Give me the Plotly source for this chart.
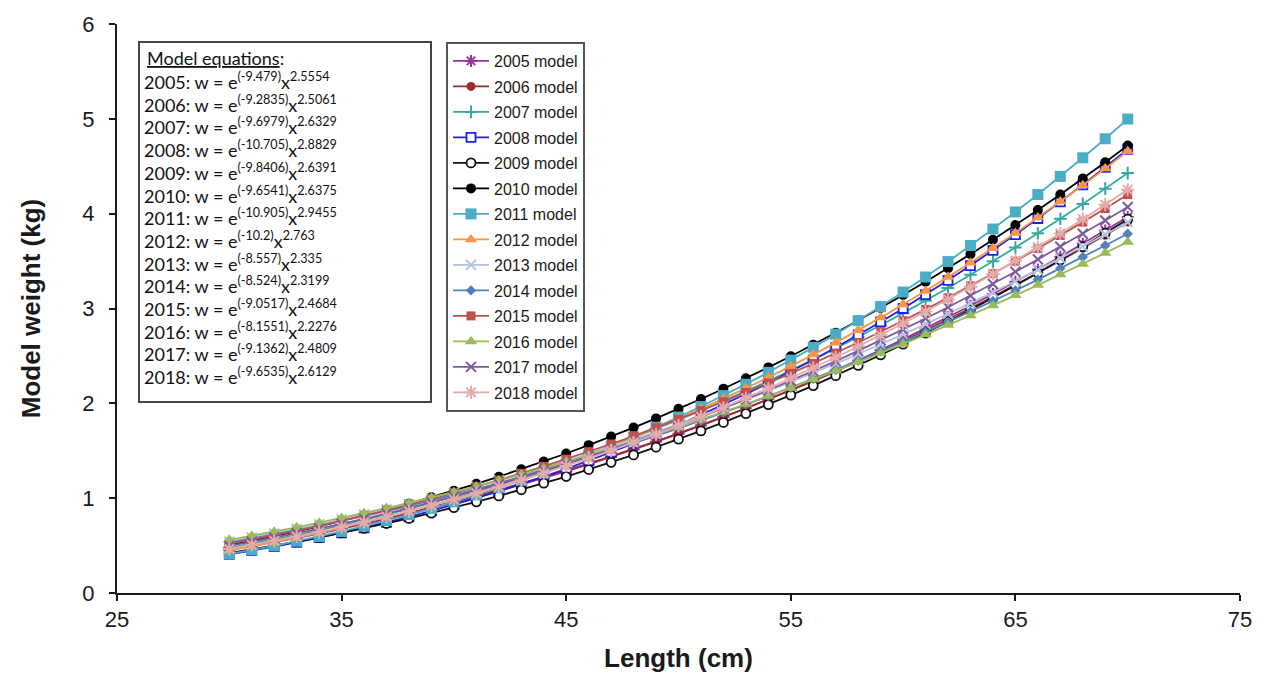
import plotly.graph_objects as go

# ---------------- data ----------------
length_cm = [30, 31, 32, 33, 34, 35, 36, 37, 38, 39, 40, 41, 42, 43, 44, 45, 46, 47, 48, 49, 50,
             51, 52, 53, 54, 55, 56, 57, 58, 59, 60, 61, 62, 63, 64, 65, 66, 67, 68, 69, 70]

w2005 = [0.455, 0.495, 0.537, 0.580, 0.626, 0.675, 0.725, 0.778, 0.832, 0.889, 0.949, 1.011, 1.075, 1.142,
         1.211, 1.282, 1.356, 1.433, 1.512, 1.594, 1.678, 1.765, 1.855, 1.948, 2.043, 2.141, 2.242, 2.346,
         2.452, 2.562, 2.674, 2.790, 2.908, 3.029, 3.154, 3.281, 3.412, 3.545, 3.682, 3.822, 3.965]
w2006 = [0.468, 0.508, 0.550, 0.594, 0.640, 0.688, 0.739, 0.791, 0.846, 0.903, 0.962, 1.023, 1.087, 1.153,
         1.221, 1.292, 1.365, 1.441, 1.519, 1.600, 1.683, 1.768, 1.857, 1.947, 2.041, 2.137, 2.235, 2.337,
         2.441, 2.548, 2.657, 2.770, 2.885, 3.003, 3.124, 3.248, 3.374, 3.504, 3.637, 3.772, 3.911]
w2007 = [0.476, 0.519, 0.564, 0.611, 0.661, 0.714, 0.769, 0.826, 0.886, 0.949, 1.015, 1.083, 1.154, 1.227,
         1.304, 1.384, 1.466, 1.551, 1.640, 1.731, 1.826, 1.924, 2.024, 2.129, 2.236, 2.347, 2.461, 2.578,
         2.699, 2.823, 2.951, 3.082, 3.217, 3.355, 3.497, 3.643, 3.793, 3.946, 4.103, 4.264, 4.428]
w2008 = [0.407, 0.447, 0.490, 0.535, 0.583, 0.634, 0.688, 0.744, 0.804, 0.866, 0.932, 1.001, 1.073, 1.148,
         1.227, 1.309, 1.395, 1.484, 1.577, 1.673, 1.774, 1.878, 1.986, 2.098, 2.214, 2.334, 2.459, 2.588,
         2.721, 2.858, 3.000, 3.146, 3.297, 3.453, 3.613, 3.779, 3.949, 4.124, 4.304, 4.489, 4.679]
w2009 = [0.421, 0.459, 0.500, 0.542, 0.586, 0.633, 0.682, 0.733, 0.786, 0.842, 0.900, 0.961, 1.024, 1.089,
         1.158, 1.228, 1.302, 1.378, 1.456, 1.538, 1.622, 1.709, 1.799, 1.892, 1.987, 2.086, 2.187, 2.292,
         2.400, 2.510, 2.624, 2.741, 2.861, 2.985, 3.111, 3.242, 3.375, 3.511, 3.651, 3.795, 3.942]
w2010 = [0.505, 0.551, 0.599, 0.649, 0.702, 0.758, 0.817, 0.878, 0.942, 1.009, 1.078, 1.151, 1.226, 1.305,
         1.386, 1.471, 1.559, 1.650, 1.744, 1.841, 1.942, 2.046, 2.154, 2.265, 2.379, 2.497, 2.619, 2.744,
         2.873, 3.005, 3.142, 3.282, 3.425, 3.573, 3.725, 3.880, 4.039, 4.203, 4.370, 4.542, 4.718]
w2011 = [0.412, 0.454, 0.498, 0.546, 0.596, 0.649, 0.705, 0.764, 0.827, 0.892, 0.961, 1.034, 1.110, 1.190,
         1.273, 1.360, 1.451, 1.546, 1.645, 1.748, 1.855, 1.966, 2.082, 2.202, 2.327, 2.456, 2.590, 2.729,
         2.872, 3.020, 3.174, 3.332, 3.495, 3.664, 3.838, 4.018, 4.202, 4.393, 4.589, 4.790, 4.998]
w2012 = [0.448, 0.491, 0.536, 0.583, 0.633, 0.686, 0.742, 0.800, 0.861, 0.925, 0.992, 1.062, 1.136, 1.212,
         1.291, 1.374, 1.460, 1.550, 1.642, 1.739, 1.838, 1.942, 2.049, 2.160, 2.274, 2.392, 2.514, 2.640,
         2.770, 2.904, 3.042, 3.185, 3.331, 3.482, 3.636, 3.796, 3.959, 4.127, 4.300, 4.477, 4.658]
w2013 = [0.541, 0.584, 0.628, 0.675, 0.724, 0.775, 0.827, 0.882, 0.939, 0.997, 1.058, 1.121, 1.186, 1.253,
         1.322, 1.393, 1.466, 1.542, 1.620, 1.700, 1.782, 1.866, 1.953, 2.041, 2.132, 2.226, 2.321, 2.419,
         2.520, 2.622, 2.727, 2.835, 2.944, 3.056, 3.171, 3.288, 3.407, 3.529, 3.653, 3.780, 3.909]
w2014 = [0.531, 0.573, 0.616, 0.662, 0.709, 0.759, 0.810, 0.863, 0.918, 0.975, 1.034, 1.095, 1.158, 1.223,
         1.290, 1.359, 1.431, 1.504, 1.579, 1.656, 1.736, 1.817, 1.901, 1.987, 2.075, 2.165, 2.258, 2.352,
         2.449, 2.548, 2.650, 2.753, 2.859, 2.967, 3.078, 3.190, 3.305, 3.423, 3.543, 3.665, 3.789]
w2015 = [0.519, 0.563, 0.608, 0.656, 0.707, 0.759, 0.814, 0.871, 0.930, 0.991, 1.055, 1.122, 1.190, 1.262,
         1.335, 1.411, 1.490, 1.571, 1.655, 1.742, 1.831, 1.923, 2.017, 2.114, 2.214, 2.316, 2.422, 2.530,
         2.641, 2.755, 2.871, 2.991, 3.113, 3.239, 3.367, 3.499, 3.633, 3.770, 3.911, 4.054, 4.201]
w2016 = [0.561, 0.603, 0.647, 0.693, 0.741, 0.790, 0.842, 0.895, 0.949, 1.006, 1.064, 1.124, 1.186, 1.250,
         1.316, 1.383, 1.453, 1.524, 1.597, 1.672, 1.749, 1.828, 1.909, 1.992, 2.077, 2.163, 2.252, 2.342,
         2.435, 2.530, 2.626, 2.725, 2.825, 2.927, 3.032, 3.139, 3.247, 3.358, 3.470, 3.585, 3.702]
w2017 = [0.497, 0.540, 0.584, 0.630, 0.679, 0.729, 0.782, 0.837, 0.894, 0.954, 1.016, 1.080, 1.146, 1.215,
         1.287, 1.360, 1.437, 1.515, 1.597, 1.680, 1.767, 1.856, 1.947, 2.042, 2.138, 2.238, 2.340, 2.445,
         2.553, 2.664, 2.777, 2.894, 3.013, 3.135, 3.259, 3.387, 3.518, 3.652, 3.789, 3.928, 4.071]
w2018 = [0.465, 0.506, 0.550, 0.596, 0.644, 0.695, 0.748, 0.804, 0.862, 0.922, 0.985, 1.051, 1.119, 1.190,
         1.264, 1.340, 1.420, 1.502, 1.587, 1.674, 1.765, 1.859, 1.956, 2.055, 2.158, 2.264, 2.373, 2.486,
         2.601, 2.720, 2.842, 2.968, 3.097, 3.229, 3.364, 3.504, 3.646, 3.792, 3.942, 4.095, 4.252]

years = ["2005", "2006", "2007", "2008", "2009", "2010", "2011",
         "2012", "2013", "2014", "2015", "2016", "2017", "2018"]
eq_intercepts = ["-9.479", "-9.2835", "-9.6979", "-10.705", "-9.8406", "-9.6541", "-10.905",
                 "-10.2", "-8.557", "-8.524", "-9.0517", "-8.1551", "-9.1362", "-9.6535"]
eq_exponents = ["2.5554", "2.5061", "2.6329", "2.8829", "2.6391", "2.6375", "2.9455",
                "2.763", "2.335", "2.3199", "2.4684", "2.2276", "2.4809", "2.6129"]
x_ticks = [25, 35, 45, 55, 65, 75]
y_ticks = [0, 1, 2, 3, 4, 5, 6]

series = [w2005, w2006, w2007, w2008, w2009, w2010, w2011,
          w2012, w2013, w2014, w2015, w2016, w2017, w2018]

# ---------------- styles ----------------
styles = [
    dict(color="#993399", symbol="asterisk-open", size=10, fill=None),
    dict(color="#9E2B2B", symbol="circle", size=9, fill=None),
    dict(color="#35A9A0", symbol="cross-thin-open", size=9, fill=None),
    dict(color="#2020E8", symbol="square", size=9, fill="white"),
    dict(color="#111111", symbol="circle", size=9, fill="white"),
    dict(color="#000000", symbol="circle", size=10, fill=None),
    dict(color="#4BACC6", symbol="square", size=11, fill=None),
    dict(color="#F79646", symbol="triangle-up", size=11, fill=None),
    dict(color="#B3C2E3", symbol="x-thin-open", size=10, fill=None),
    dict(color="#4F81BD", symbol="diamond", size=8, fill=None),
    dict(color="#C0504D", symbol="square", size=9, fill=None),
    dict(color="#9BBB59", symbol="triangle-up", size=11, fill=None),
    dict(color="#7A5C9E", symbol="x-thin-open", size=10, fill=None),
    dict(color="#E4ACAC", symbol="asterisk-open", size=11, fill=None),
]

fig = go.Figure()
for yr, vals, st in zip(years, series, styles):
    if st["fill"] is not None:
        marker = dict(symbol=st["symbol"], size=st["size"], color=st["fill"],
                      line=dict(color=st["color"], width=1.8))
    elif st["symbol"].endswith("-open"):
        marker = dict(symbol=st["symbol"], size=st["size"], color=st["color"],
                      line=dict(color=st["color"], width=2))
    else:
        marker = dict(symbol=st["symbol"], size=st["size"], color=st["color"],
                      line=dict(width=0))
    fig.add_trace(go.Scatter(
        x=length_cm, y=vals, mode="lines+markers", name=f"{yr} model",
        legendgroup=yr, line=dict(color=st["color"], width=1.8), marker=marker))

# ---------------- geometry (page offset of 8 px from the html body margin) ----------------
OFF = 8
FIG_W, FIG_H = 1272 - 2 * OFF, 681 - 2 * OFF
px_left, px_right, px_top, px_bottom = 117, 1240, 24, 593  # page pixels of the plot area
W = px_right - px_left
H = px_bottom - px_top


def xp(px):
    return (px - px_left) / W


def yp(py):
    return (px_bottom - py) / H


fig.add_shape(type="rect", xref="paper", yref="paper",
              x0=xp(139), x1=xp(431), y0=yp(402), y1=yp(42),
              line=dict(color="#444444", width=2), fillcolor="white", layer="below")

eq_font = dict(family="Lato, Open Sans, sans-serif", size=18, color="#111111")
annotations = [dict(xref="paper", yref="paper", x=xp(145), y=yp(58), xanchor="left",
                    yanchor="middle", showarrow=False, text="<u>Model equations</u>:",
                    font=eq_font)]
for i, (yr, a, b) in enumerate(zip(years, eq_intercepts, eq_exponents)):
    annotations.append(dict(
        xref="paper", yref="paper", x=xp(142), y=yp(81 + 22.7 * i), xanchor="left",
        yanchor="middle", showarrow=False,
        text=f"{yr}: w = e<sup>({a})</sup>x<sup>{b}</sup>", font=eq_font))

tick_font = dict(family="Arial, Liberation Sans, sans-serif", size=22, color="#1a1a1a")
title_font = dict(family="Arial, Liberation Sans, sans-serif", size=26, color="#1a1a1a")
fig.update_layout(
    width=FIG_W, height=FIG_H,
    margin=dict(l=px_left - OFF, r=(FIG_W + OFF) - px_right, t=px_top - OFF,
                b=(FIG_H + OFF) - px_bottom),
    plot_bgcolor="white", paper_bgcolor="white",
    annotations=annotations,
    showlegend=True,
    legend=dict(x=xp(446), y=yp(42), xanchor="left", yanchor="top",
                bgcolor="white", bordercolor="#555555", borderwidth=2,
                font=dict(family="Arial, Liberation Sans, sans-serif", size=16, color="#1a1a1a"),
                traceorder="grouped", tracegroupgap=1.7, itemwidth=36),
    xaxis=dict(range=[25, 75], tickvals=x_ticks, showgrid=False, zeroline=False,
               showline=True, linecolor="#1a1a1a", linewidth=2, ticks="outside",
               ticklen=6, tickwidth=2, tickcolor="#1a1a1a", tickfont=tick_font,
               automargin=False,
               title=dict(text="<b>Length (cm)</b>", font=title_font, standoff=19)),
    yaxis=dict(range=[0, 6], tickvals=y_ticks, showgrid=False, zeroline=False,
               showline=True, linecolor="#1a1a1a", linewidth=2, ticks="outside",
               ticklen=6, tickwidth=2, tickcolor="#1a1a1a", tickfont=tick_font,
               ticklabelstandoff=10, automargin=False,
               title=dict(text="<b>Model weight (kg)</b>", font=title_font, standoff=34)),
)

fig.write_html("out.html")
